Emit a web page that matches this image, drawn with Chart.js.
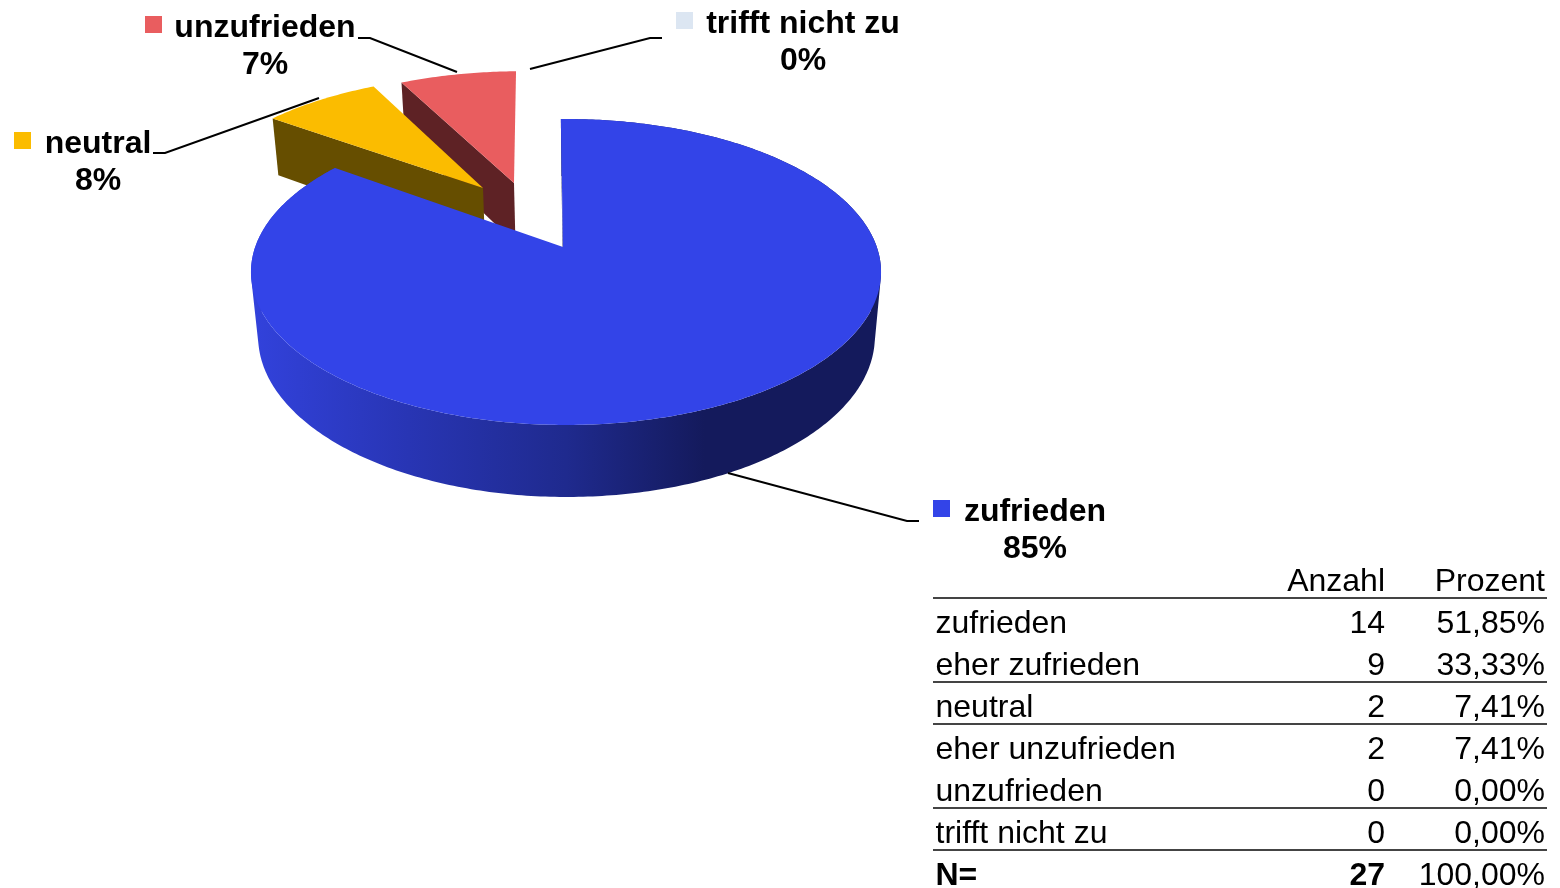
<!DOCTYPE html>
<html lang="de">
<head>
<meta charset="utf-8">
<title>Zufriedenheit</title>
<script src="https://cdn.jsdelivr.net/npm/chart.js@4"></script>
<style>
  html, body { margin: 0; padding: 0; background: #fff; overflow: hidden; }
  #stage { position: relative; width: 1560px; height: 888px; font-family: "Liberation Sans", Arial, sans-serif; color: #000; overflow: hidden; }
  canvas { position: absolute; left: 0; top: 0; }
  .lbl { position: absolute; width: 300px; text-align: center; font-weight: bold; font-size: 32px; line-height: 37px; white-space: pre-line; }
  table { position: absolute; left: 933px; top: 557px; width: 614px; border-collapse: collapse; table-layout: fixed; font-size: 32px; }
  td { height: 40px; padding: 0 2px 0 2.5px; line-height: 40px; white-space: nowrap; border-bottom: 2px solid transparent; }
  td span { position: relative; top: 3px; }
  td.n { text-align: right; }
  tr.rule td { border-bottom-color: #444; }
  tr.total td { font-weight: bold; }
  tr.total td:last-child { font-weight: normal; }
</style>
</head>
<body>
<div id="stage">
  <canvas id="c" width="1560" height="888"></canvas>
  <table id="t"></table>
</div>
<script>
const categories = ['zufrieden', 'neutral', 'unzufrieden', 'trifft nicht zu'];
const counts = [23, 2, 2, 0];
const percentLabels = ['85%', '8%', '7%', '0%'];

const tableHeader = ['', 'Anzahl', 'Prozent'];
const tableRows = ['zufrieden', 'eher zufrieden', 'neutral', 'eher unzufrieden', 'unzufrieden', 'trifft nicht zu', 'N='];
const tableCounts = ['14', '9', '2', '2', '0', '0', '27'];
const tablePercents = ['51,85%', '33,33%', '7,41%', '7,41%', '0,00%', '0,00%', '100,00%'];
const tableRuleRows = [1, 2, 4, 5];

const topColors = ['#3344E8', '#FBBC00', '#E95D5F', '#DCE6F2'];
const wallColors = ['#141A5C', '#664E00', '#5E2225', '#8A95A5'];

/* perspective view of the pie: one homography for the top face, one for the bottom face */
const viewTop = { cx: 566, cy: 247, bx: 310.8, by: 148.9, k: -0.1634 };
const viewBottom = { cx: 566.5, cy: 310.8, bx: 304.4, by: 156.4, k: -0.16 };
/* how far each slice is pulled out, in pie radii */
const explode = [[0, 0], [-0.2855, -0.424], [-0.18, -0.4623], [0, 0]];
/* small sideways nudge of each slice's tip, in pie radii */
const tipNudge = [-0.0097, 0, 0, 0];

const labelBoxes = [
  { i: 0, cx: 1035, top: 492, sq: [933, 500] },
  { i: 1, cx: 98, top: 124, sq: [14, 132] },
  { i: 2, cx: 265, top: 8, sq: [145, 16] },
  { i: 3, cx: 803, top: 4, sq: [676, 12] }
];
const leaders = [
  [[728, 473], [907, 521], [919, 521]],
  [[153, 153], [165, 153], [319, 98]],
  [[358, 38], [370, 38], [457, 72]],
  [[530, 69], [650, 38], [662, 38]]
];

function project(view, u, v) {
  const w = 1 / (1 + view.k * v);
  return [view.cx + view.bx * u * w, view.cy + view.by * v * w];
}
function addPoly(ctx, pts) {
  pts.forEach((p, i) => i ? ctx.lineTo(p[0], p[1]) : ctx.moveTo(p[0], p[1]));
  ctx.closePath();
}
function signedArea(pts) {
  let a = 0;
  pts.forEach((p, i) => {
    const q = pts[(i + 1) % pts.length];
    a += p[0] * q[1] - q[0] * p[1];
  });
  return a;
}

const pie3d = {
  id: 'pie3d',
  beforeDatasetsDraw(chart) {
    const ctx = chart.ctx;
    const arcs = chart.getDatasetMeta(0).data;
    const sideGrad = ctx.createLinearGradient(251, 0, 881, 0);
    sideGrad.addColorStop(0, '#3242DC');
    sideGrad.addColorStop(0.25, '#2835B4');
    sideGrad.addColorStop(0.5, '#1F2A8E');
    sideGrad.addColorStop(0.72, '#141A5C');
    sideGrad.addColorStop(1, '#141A5C');

    ctx.save();
    for (let idx = arcs.length - 1; idx >= 0; idx--) {
      const { startAngle, endAngle } = arcs[idx].getProps(['startAngle', 'endAngle'], true);
      if (endAngle - startAngle < 1e-4) continue;
      const [ou, ov] = explode[idx];
      const steps = Math.max(8, Math.ceil((endAngle - startAngle) / (Math.PI / 240)));
      const rim = [];
      for (let s = 0; s <= steps; s++) {
        const a = startAngle + (endAngle - startAngle) * s / steps;
        rim.push([ou + Math.cos(a), ov + Math.sin(a)]);
      }
      const apexT = project(viewTop, ou + tipNudge[idx], ov);
      const apexB = project(viewBottom, ou + tipNudge[idx], ov);
      const rimT = rim.map(p => project(viewTop, p[0], p[1]));
      const rimB = rim.map(p => project(viewBottom, p[0], p[1]));

      /* radial wall on the leading edge */
      ctx.fillStyle = wallColors[idx];
      ctx.beginPath();
      addPoly(ctx, [apexT, rimT[0], rimB[0], apexB]);
      ctx.fill();

      /* outer wall of the front slice, one seamless path */
      if (idx === 0) {
        ctx.fillStyle = sideGrad;
        ctx.beginPath();
        for (let s = 0; s < steps; s++) {
          const q = [rimT[s], rimT[s + 1], rimB[s + 1], rimB[s]];
          addPoly(ctx, signedArea(q) < 0 ? q.reverse() : q);
        }
        ctx.fill();
      }
      /* top face */
      ctx.fillStyle = topColors[idx];
      ctx.beginPath();
      addPoly(ctx, [apexT].concat(rimT));
      ctx.fill();
    }
    ctx.restore();
    return false;
  },
  afterDraw(chart) {
    const ctx = chart.ctx;
    ctx.save();
    ctx.strokeStyle = '#000';
    ctx.lineWidth = 2;
    leaders.forEach(line => {
      ctx.beginPath();
      line.forEach((p, i) => i ? ctx.lineTo(p[0], p[1]) : ctx.moveTo(p[0], p[1]));
      ctx.stroke();
    });
    labelBoxes.forEach(b => {
      ctx.fillStyle = topColors[b.i];
      ctx.fillRect(b.sq[0], b.sq[1], 17, 17);
    });
    ctx.restore();
  }
};

new Chart(document.getElementById('c'), {
  type: 'pie',
  data: {
    labels: categories,
    datasets: [{ data: counts, backgroundColor: topColors, borderWidth: 0 }]
  },
  options: {
    responsive: false,
    animation: false,
    rotation: -1.1,
    plugins: { legend: { display: false }, tooltip: { enabled: false } }
  },
  plugins: [pie3d]
});

const stage = document.getElementById('stage');
labelBoxes.forEach(b => {
  const d = document.createElement('div');
  d.className = 'lbl';
  d.style.left = (b.cx - 150) + 'px';
  d.style.top = b.top + 'px';
  d.textContent = categories[b.i] + '\n' + percentLabels[b.i];
  stage.appendChild(d);
});

const table = document.getElementById('t');
const colgroup = document.createElement('colgroup');
[322, 132, 160].forEach(w => {
  const c = document.createElement('col');
  c.style.width = w + 'px';
  colgroup.appendChild(c);
});
table.appendChild(colgroup);
function addRow(cells, cls) {
  const tr = document.createElement('tr');
  if (cls) tr.className = cls;
  cells.forEach((txt, i) => {
    const td = document.createElement('td');
    const sp = document.createElement('span');
    sp.textContent = txt;
    td.appendChild(sp);
    if (i) td.className = 'n';
    tr.appendChild(td);
  });
  table.appendChild(tr);
}
addRow(tableHeader, 'rule');
tableRows.forEach((r, i) => {
  const cls = tableRuleRows.includes(i) ? 'rule' : (i === tableRows.length - 1 ? 'total' : '');
  addRow([r, tableCounts[i], tablePercents[i]], cls);
});
</script>
</body>
</html>
